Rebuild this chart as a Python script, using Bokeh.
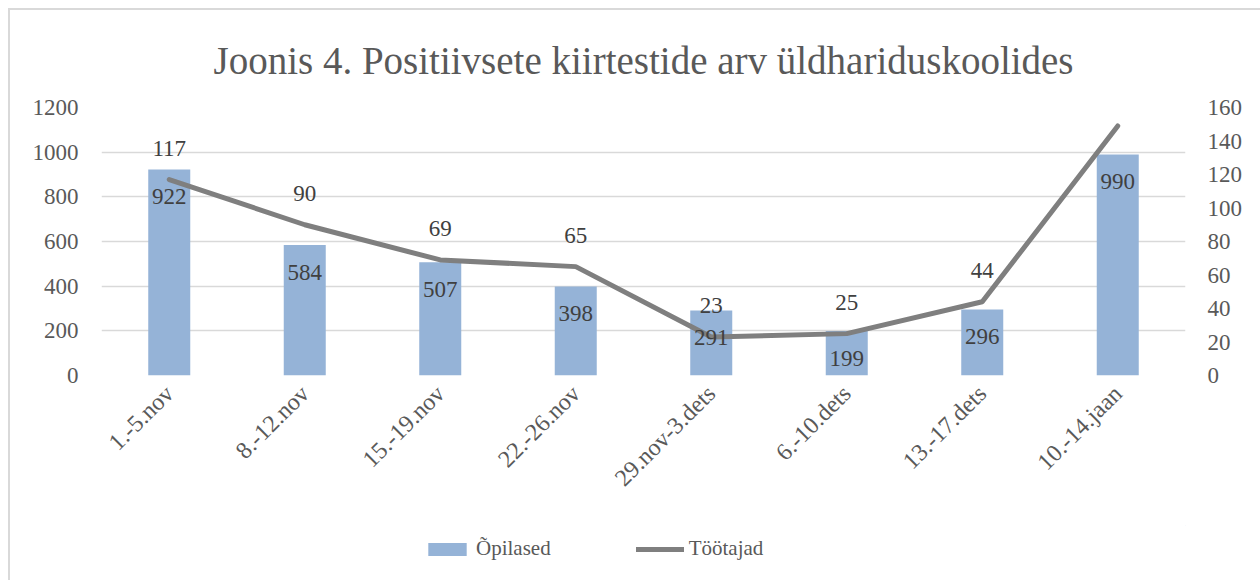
import math
from bokeh.plotting import figure
from bokeh.layouts import column
from bokeh.models import (ColumnDataSource, FactorRange, Range1d, LinearAxis,
                          LabelSet, Legend, LegendItem, FixedTicker)
from bokeh.embed import file_html
from bokeh.resources import INLINE

# ---- data ----
categories = ["1.-5.nov", "8.-12.nov", "15.-19.nov", "22.-26.nov",
              "29.nov-3.dets", "6.-10.dets", "13.-17.dets", "10.-14.jaan"]
opilased = [922, 584, 507, 398, 291, 199, 296, 990]
tootajad = [117, 90, 69, 65, 23, 25, 44, 149]
left_ticks = [0, 200, 400, 600, 800, 1000, 1200]
right_ticks = [0, 20, 40, 60, 80, 100, 120, 140, 160]
title_text = "Joonis 4. Positiivsete kiirtestide arv üldhariduskoolides"
series_names = ["Õpilased", "Töötajad"]

src = ColumnDataSource(dict(
    cat=categories,
    op=opilased,
    tt=tootajad,
    op_lbl=[str(v) for v in opilased],
    tt_lbl=[str(v) for v in tootajad],
))

TXT = "#595959"
LBL = "#404040"
BAR = "#95b3d7"
LINE = "#7f7f7f"
FONT = "Liberation Serif"

p = figure(width=1250, height=515, x_range=FactorRange(*categories),
           y_range=Range1d(0, 1200), output_backend="svg",
           toolbar_location=None,
           min_border_left=91, min_border_right=75,
           min_border_top=97, min_border_bottom=150)
p.outline_line_color = None
p.background_fill_color = "white"
p.border_fill_color = "white"

p.extra_y_ranges = {"right": Range1d(0, 160)}

# title
p.title.text = title_text
p.title.align = "center"
p.title.text_font = FONT
p.title.text_font_size = "39px"
p.title.text_font_style = "normal"
p.title.text_color = TXT
p.title.standoff = 52

# grids
p.xgrid.grid_line_color = None
p.ygrid.grid_line_color = "#d9d9d9"
p.ygrid.grid_line_width = 1.5
p.ygrid.ticker = FixedTicker(ticks=left_ticks)

# left axis
ya = p.yaxis[0]
ya.ticker = FixedTicker(ticks=left_ticks)
ya.axis_line_color = None
ya.major_tick_line_color = None
ya.minor_tick_line_color = None
ya.major_label_text_font = FONT
ya.major_label_text_font_size = "23px"
ya.major_label_text_color = TXT
ya.major_label_standoff = 17

# right axis
ra = LinearAxis(y_range_name="right", ticker=FixedTicker(ticks=right_ticks))
ra.axis_line_color = None
ra.major_tick_line_color = None
ra.minor_tick_line_color = None
ra.major_label_text_font = FONT
ra.major_label_text_font_size = "23px"
ra.major_label_text_color = TXT
ra.major_label_standoff = 16
p.add_layout(ra, "right")

# x axis
xa = p.xaxis[0]
xa.axis_line_color = None
xa.major_tick_line_color = None
xa.minor_tick_line_color = None
xa.major_label_orientation = math.pi / 4
xa.major_label_text_font = FONT
xa.major_label_text_font_size = "24px"
xa.major_label_text_color = TXT
xa.major_label_standoff = 8

# bars
bars = p.vbar(x="cat", top="op", width=0.31, source=src,
              fill_color=BAR, line_color=None)

# line
line = p.line(x="cat", y="tt", source=src, y_range_name="right",
              line_color=LINE, line_width=5,
              line_join="round", line_cap="round")

# data labels
bar_labels = LabelSet(x="cat", y="op", text="op_lbl", source=src,
                      text_align="center", text_baseline="middle",
                      y_offset=-27, text_font=FONT,
                      text_font_size="23px", text_color=LBL)
line_labels = LabelSet(x="cat", y="tt", text="tt_lbl", source=src,
                       y_range_name="right",
                       text_align="center", text_baseline="middle",
                       y_offset=31, text_font=FONT,
                       text_font_size="23px", text_color=LBL)
p.add_layout(bar_labels)
p.add_layout(line_labels)

# legend strip (swatch renderers sit outside the visible range)
q = figure(width=1250, height=55, x_range=Range1d(0, 1), y_range=Range1d(0, 1),
           output_backend="svg", toolbar_location=None,
           min_border_left=0, min_border_right=0,
           min_border_top=0, min_border_bottom=0)
q.axis.visible = False
q.grid.visible = False
q.outline_line_color = None
q.border_fill_color = "white"
lb = q.vbar(x=[5], top=[5], bottom=[4], width=0.1, fill_color=BAR, line_color=None)
ll = q.line(x=[5, 6], y=[5, 5], line_color=LINE, line_width=5, line_cap="round")
legend = Legend(items=[LegendItem(label=series_names[0], renderers=[lb]),
                       LegendItem(label=series_names[1], renderers=[ll])],
                orientation="horizontal", location=(322, 19),
                border_line_color=None, background_fill_alpha=0,
                label_text_font=FONT, label_text_font_size="21px",
                label_text_color=TXT, glyph_width=48, glyph_height=16,
                spacing=85, label_standoff=5, margin=0, padding=0)
q.add_layout(legend)

layout = column(p, q, spacing=0,
                styles={"margin-left": "8px", "margin-top": "8px",
                        "border-left": "2px solid #d9d9d9",
                        "border-top": "2px solid #d9d9d9"})

open("out.html", "w").write(file_html(layout, INLINE))
